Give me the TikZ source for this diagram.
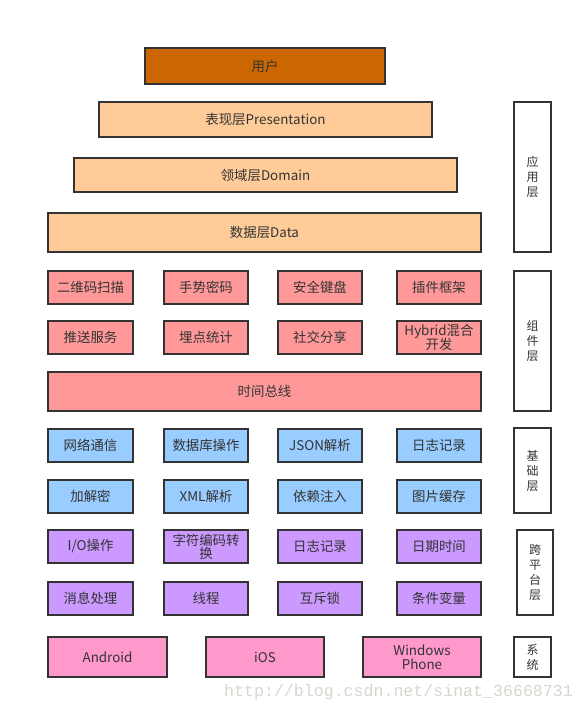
\documentclass[tikz,border=0pt]{standalone}
\usepackage{fontspec}
\setmainfont{Noto Sans CJK SC}
\newfontfamily\wmfont{Liberation Mono}
\definecolor{edge}{HTML}{333333}
\definecolor{usercol}{HTML}{CC6600}
\definecolor{appcol}{HTML}{FFCC99}
\definecolor{compcol}{HTML}{FF9999}
\definecolor{basecol}{HTML}{99CCFF}
\definecolor{crosscol}{HTML}{CC99FF}
\definecolor{syscol}{HTML}{FF99CC}
\definecolor{wmcol}{HTML}{D9D6D0}
\tikzset{
  layerbox/.style={draw=edge, line width=2pt, text=edge, inner sep=1pt, align=center,
    font=\fontsize{13.4}{16}\selectfont},
  cell/.style={layerbox, minimum width=84pt, minimum height=33pt},
  sidebox/.style={draw=edge, line width=2pt, fill=white, text=edge, minimum width=37pt,
    align=center, inner sep=1pt, font=\fontsize{12}{15}\selectfont},
  app/.style={layerbox, fill=appcol},
  comp/.style={cell, fill=compcol},
  base/.style={cell, fill=basecol},
  cross/.style={cell, fill=crosscol},
  sys/.style={layerbox, fill=syscol, minimum width=118pt, minimum height=40pt},
}
\begin{document}
\begin{tikzpicture}[x=1pt,y=-1pt]
\useasboundingbox (0,0) rectangle (586,710);
\fill[white] (0,0) rectangle (586,710);
% application layer
\node[layerbox, fill=usercol, minimum width=240pt, minimum height=36pt] (user) at (265,66) {用户};
\node[app, minimum width=333pt, minimum height=35pt] (pres) at (265.5,119.5) {表现层Presentation};
\node[app, minimum width=383pt, minimum height=34pt] (domain) at (265.5,175) {领域层Domain};
\node[app, minimum width=433pt, minimum height=39pt] (data) at (264.5,232.5) {数据层Data};
% component layer
\node[comp, minimum width=85pt] (qr) at (90.5,287.5) {二维码扫描};
\node[comp] (gesture) at (206,287.5) {手势密码};
\node[comp] (keyboard) at (320,287.5) {安全键盘};
\node[comp] (plugin) at (439,287.5) {插件框架};
\node[comp, minimum width=85pt] (push) at (90.5,337.5) {推送服务};
\node[comp] (stats) at (206,337.5) {埋点统计};
\node[comp] (share) at (320,337.5) {社交分享};
\node[comp] (hybrid) at (439,337.5) {Hybrid混合\\[-2pt]开发};
\node[layerbox, fill=compcol, minimum width=433pt, minimum height=39pt] (bus) at (264.5,391.5) {时间总线};
% base layer
\node[base, minimum width=85pt] (net) at (90.5,445.5) {网络通信};
\node[base] (db) at (206,445.5) {数据库操作};
\node[base] (json) at (320,445.5) {JSON解析};
\node[base] (log) at (439,445.5) {日志记录};
\node[base, minimum width=85pt] (crypt) at (90.5,496.5) {加解密};
\node[base] (xml) at (206,496.5) {XML解析};
\node[base] (inject) at (320,496.5) {依赖注入};
\node[base] (img) at (439,496.5) {图片缓存};
% cross platform layer
\node[cross, minimum width=85pt] (io) at (90.5,546.5) {I/O操作};
\node[cross] (enc) at (206,546.5) {字符编码转\\[-3pt]换};
\node[cross] (log2) at (320,546.5) {日志记录};
\node[cross] (date) at (439,546.5) {日期时间};
\node[cross, minimum width=85pt] (msg) at (90.5,598.5) {消息处理};
\node[cross] (thread) at (206,598.5) {线程};
\node[cross] (mutex) at (320,598.5) {互斥锁};
\node[cross] (cond) at (439,598.5) {条件变量};
% system layer
\node[sys, minimum width=119pt] (android) at (107.5,657) {Android};
\node[sys] (ios) at (265,657) {iOS};
\node[sys] (wp) at (422,657) {Windows\\[-2pt]Phone};
% side labels
\node[sidebox, minimum height=150pt] (sapp) at (532.5,177) {应\\用\\层};
\node[sidebox, minimum height=140pt] (scomp) at (532.5,341) {组\\件\\层};
\node[sidebox, minimum height=85pt] (sbase) at (532.5,470.5) {基\\础\\层};
\node[sidebox, minimum height=85pt, minimum width=36pt] (scross) at (535,572.5) {跨\\平\\台\\层};
\node[sidebox, minimum height=40pt] (ssys) at (532.5,657) {系\\统};
% watermark
\node[anchor=base west, inner sep=0pt, text=wmcol, font=\wmfont\fontsize{16.6}{18}\selectfont] (wm) at (224,696) {http://blog.csdn.net/sinat\_36668731};
\end{tikzpicture}
\end{document}
